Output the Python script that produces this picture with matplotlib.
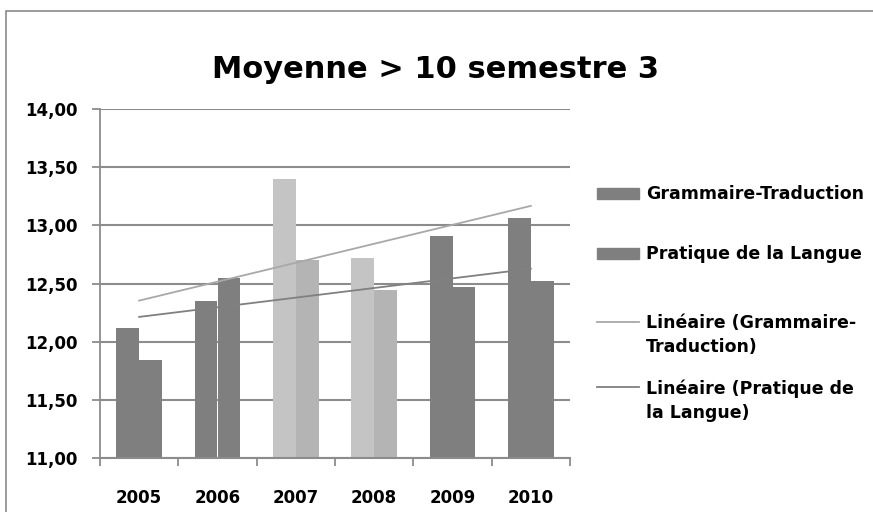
import numpy as np
import matplotlib
matplotlib.use("Agg")
import matplotlib.pyplot as plt
from matplotlib.patches import Rectangle
from matplotlib.lines import Line2D
from matplotlib.ticker import FuncFormatter

years = ["2005", "2006", "2007", "2008", "2009", "2010"]
grammaire = [12.12, 12.35, 13.40, 12.72, 12.91, 13.06]
pratique = [11.84, 12.55, 12.70, 12.44, 12.47, 12.52]
# 2007 and 2008 bars are drawn in a lighter shade in the original
light_years = ["2007", "2008"]

dark = "#7f7f7f"
light_gt = "#c4c4c4"
light_pl = "#b4b4b4"
grid_c = "#8c8c8c"
trend_gt = "#a8a8a8"
trend_pl = "#808080"

plt.rcParams['font.family'] = ['DejaVu Sans']

W, H = 873, 512
fig = plt.figure(figsize=(W / 100, H / 100), dpi=100)
ax = fig.add_axes([100 / W, 1 - 458 / H, 470 / W, 349 / H])

x = np.arange(len(years))
w = 0.29
c_gt = [light_gt if y in light_years else dark for y in years]
c_pl = [light_pl if y in light_years else dark for y in years]
ax.bar(x - w / 2, np.array(grammaire) - 11, w, bottom=11, color=c_gt, zorder=2)
ax.bar(x + w / 2, np.array(pratique) - 11, w, bottom=11, color=c_pl, zorder=2)

# linear trend lines (as in Excel)
for vals, col in [(grammaire, trend_gt), (pratique, trend_pl)]:
    k, b = np.polyfit(x, vals, 1)
    ax.plot(x, k * x + b, color=col, lw=1.3, zorder=3)

ax.set_ylim(11, 14)
ax.set_xlim(-0.5, len(years) - 0.5)
ax.set_yticks(np.arange(11, 14.01, 0.5))
ax.yaxis.set_major_formatter(FuncFormatter(lambda v, p: f"{v:.2f}".replace(".", ",")))
ax.yaxis.grid(True, color=grid_c, lw=1.5, zorder=1)
ax.set_axisbelow(True)

ax.set_xticks(x)
ax.set_xticklabels(years)
ax.set_xticks(np.arange(-0.5, len(years), 1), minor=True)
ax.tick_params(axis="x", which="major", length=0, pad=22)
ax.tick_params(axis="x", which="minor", length=6, color=grid_c, width=1.3)
ax.tick_params(axis="y", length=6, color=grid_c, width=1.3, pad=10)
for lab in ax.get_xticklabels() + ax.get_yticklabels():
    lab.set_fontweight("bold")
    lab.set_fontsize(12)

for s in ["top", "right"]:
    ax.spines[s].set_visible(False)
ax.spines["left"].set_color(grid_c)
ax.spines["bottom"].set_color(grid_c)
ax.spines["left"].set_linewidth(1.3)
ax.spines["bottom"].set_linewidth(1.5)

fig.text(435 / W, 1 - 70 / H, "Moyenne > 10 semestre 3", ha="center", va="center",
         fontsize=22, fontweight="bold")

# legend drawn by hand so that the line keys sit on the first text line, as in Excel
leg_labels = ["Grammaire-Traduction", "Pratique de la Langue",
              "Linéaire (Grammaire-\nTraduction)", "Linéaire (Pratique de\nla Langue)"]
leg_kind = ["bar", "bar", "line", "line"]
leg_color = [dark, dark, trend_gt, trend_pl]
leg_y = [193, 253, 322, 387]
kx0, kx1, tx = 597, 639, 646
for lab, kind, col, yy in zip(leg_labels, leg_kind, leg_color, leg_y):
    yf = 1 - yy / H
    if kind == "bar":
        fig.patches.append(Rectangle((kx0 / W, yf - 5.5 / H), (kx1 - kx0) / W, 11 / H,
                                     transform=fig.transFigure, color=col))
    else:
        fig.add_artist(Line2D([kx0 / W, kx1 / W], [yf, yf], color=col, lw=1.3,
                              transform=fig.transFigure))
    fig.text(tx / W, 1 - (yy - 8) / H, lab, ha="left", va="top", fontsize=12.5,
             fontweight="bold", linespacing=1.45)

# outer chart frame (left and top edges visible in the original)
fig.patches.append(Rectangle((6 / W, -0.1), 1.1, 1 - 11 / H + 0.1, transform=fig.transFigure,
                             fill=False, edgecolor="#8a8a8a", lw=1.2))

fig.savefig("out.png", dpi=100)
